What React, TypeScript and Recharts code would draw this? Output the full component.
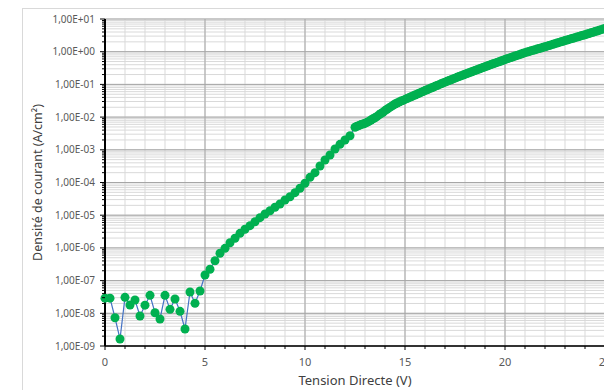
import React from "react";
import {
  LineChart,
  Line,
  XAxis,
  YAxis,
  CartesianGrid,
  ReferenceLine,
} from "recharts";

// Forward voltage (V)
const VOLTS_LOW = [
  0, 0.25, 0.5, 0.75, 1, 1.25, 1.5, 1.75, 2, 2.25, 2.5, 2.75, 3, 3.25, 3.5, 3.75,
  4, 4.25, 4.5, 4.75, 5, 5.25, 5.5, 5.75, 6, 6.25, 6.5, 6.75, 7, 7.25, 7.5, 7.75,
  8, 8.25, 8.5, 8.75, 9, 9.25, 9.5, 9.75, 10, 10.25, 10.5, 10.75, 11, 11.25, 11.5,
  11.75, 12, 12.25,
];
// Current density (A/cm²)
const DENSITY_LOW = [
  2.9e-8, 2.9e-8, 7.3e-9, 1.64e-9, 3.08e-8, 1.79e-8, 2.55e-8, 8.26e-9, 1.77e-8,
  3.55e-8, 1.04e-8, 6.7e-9, 3.55e-8, 1.32e-8, 2.74e-8, 1.15e-8, 3.31e-9, 4.48e-8,
  2.02e-8, 4.81e-8, 1.48e-7, 2.22e-7, 4.06e-7, 6.84e-7, 9.7e-7, 1.44e-6, 1.97e-6,
  2.79e-6, 3.71e-6, 4.78e-6, 6.32e-6, 8.39e-6, 1.09e-5, 1.37e-5, 1.75e-5, 2.2e-5,
  2.92e-5, 3.68e-5, 4.88e-5, 6.65e-5, 9.46e-5, 1.44e-4, 2.0e-4, 3.2e-4, 4.88e-4,
  6.93e-4, 1.06e-3, 1.47e-3, 2.0e-3, 2.7e-3,
];

const VOLTS_HIGH = [
  12.5, 12.6, 12.7, 12.8, 12.9, 13, 13.1, 13.2, 13.3, 13.4, 13.5, 13.6, 13.7, 13.8,
  13.9, 14, 14.1, 14.2, 14.3, 14.4, 14.5, 14.6, 14.7, 14.8, 14.9, 15, 15.1, 15.2,
  15.3, 15.4, 15.5, 15.6, 15.7, 15.8, 15.9, 16, 16.1, 16.2, 16.3, 16.4, 16.5, 16.6,
  16.7, 16.8, 16.9, 17, 17.1, 17.2, 17.3, 17.4, 17.5, 17.6, 17.7, 17.8, 17.9, 18,
  18.1, 18.2, 18.3, 18.4, 18.5, 18.6, 18.7, 18.8, 18.9, 19, 19.1, 19.2, 19.3, 19.4,
  19.5, 19.6, 19.7, 19.8, 19.9, 20, 20.1, 20.2, 20.3, 20.4, 20.5, 20.6, 20.7, 20.8,
  20.9, 21, 21.1, 21.2, 21.3, 21.4, 21.5, 21.6, 21.7, 21.8, 21.9, 22, 22.1, 22.2,
  22.3, 22.4, 22.5, 22.6, 22.7, 22.8, 22.9, 23, 23.1, 23.2, 23.3, 23.4, 23.5, 23.6,
  23.7, 23.8, 23.9, 24, 24.1, 24.2, 24.3, 24.4, 24.5, 24.6, 24.7, 24.8, 24.9, 25,
];
const DENSITY_HIGH = [
  4.9e-3, 5.25e-3, 5.5e-3, 5.89e-3, 6.17e-3, 6.46e-3, 6.92e-3, 7.41e-3, 8.13e-3,
  8.91e-3, 9.55e-3, 1.05e-2, 1.17e-2, 1.29e-2, 1.41e-2, 1.58e-2, 1.74e-2, 1.91e-2,
  2.09e-2, 2.29e-2, 2.51e-2, 2.69e-2, 2.88e-2, 3.09e-2, 3.24e-2, 3.47e-2, 3.69e-2,
  3.93e-2, 4.18e-2, 4.45e-2, 4.73e-2, 5.04e-2, 5.36e-2, 5.7e-2, 6.07e-2, 6.46e-2,
  6.86e-2, 7.28e-2, 7.73e-2, 8.2e-2, 8.71e-2, 9.25e-2, 9.82e-2, 0.104, 0.111, 0.117,
  0.124, 0.131, 0.139, 0.147, 0.155, 0.164, 0.173, 0.183, 0.193, 0.204, 0.215, 0.227,
  0.239, 0.252, 0.266, 0.281, 0.296, 0.312, 0.329, 0.347, 0.365, 0.384, 0.404, 0.425,
  0.447, 0.47, 0.494, 0.52, 0.547, 0.575, 0.604, 0.634, 0.665, 0.698, 0.733, 0.769,
  0.807, 0.847, 0.889, 0.933, 0.973, 1.01, 1.06, 1.1, 1.15, 1.2, 1.25, 1.3, 1.36,
  1.41, 1.48, 1.54, 1.61, 1.68, 1.76, 1.84, 1.92, 2.0, 2.09, 2.19, 2.28, 2.38, 2.48,
  2.58, 2.69, 2.81, 2.92, 3.05, 3.18, 3.31, 3.46, 3.61, 3.78, 3.94, 4.12, 4.31, 4.5,
  4.7, 4.91, 5.13,
];

// Axis ticks
const X_TICKS = [
  0, 1, 2, 3, 4, 5, 6, 7, 8, 9, 10, 11, 12, 13, 14, 15, 16, 17, 18, 19, 20, 21, 22,
  23, 24, 25,
];
const X_MAJOR_TICKS = [0, 5, 10, 15, 20, 25];
const DECADE_EXPONENTS = [-9, -8, -7, -6, -5, -4, -3, -2, -1, 0, 1];
const MINOR_MULTIPLIERS = [2, 3, 4, 5, 6, 7, 8, 9];

const data = [
  ...VOLTS_LOW.map((v, i) => ({ v, j: DENSITY_LOW[i] })),
  ...VOLTS_HIGH.map((v, i) => ({ v, j: DENSITY_HIGH[i] })),
];

const MAJOR_Y = DECADE_EXPONENTS.map((e) => Math.pow(10, e));
const Y_TICKS: number[] = [];
DECADE_EXPONENTS.forEach((e) => {
  Y_TICKS.push(Math.pow(10, e));
  if (e < 1) MINOR_MULTIPLIERS.forEach((m) => Y_TICKS.push(m * Math.pow(10, e)));
});

const isMajorY = (v: number) => {
  const l = Math.log10(v);
  return Math.abs(l - Math.round(l)) < 1e-6;
};
const fmtY = (v: number) => {
  const e = Math.round(Math.log10(v));
  return `1,00E${e >= 0 ? "+" : "-"}${String(Math.abs(e)).padStart(2, "0")}`;
};

const FONT = "'Noto Sans', 'Open Sans', sans-serif";

const YTick = (props: any) => {
  const { x, y, payload } = props;
  const major = isMajorY(payload.value);
  return (
    <g>
      <line x1={x} x2={x - (major ? 5 : 3)} y1={y} y2={y} stroke="#000" strokeWidth={1} />
      {major && (
        <text x={x - 10} y={y} dy={3.5} textAnchor="end" fontSize={10} fill="#595959" fontFamily={FONT}>
          {fmtY(payload.value)}
        </text>
      )}
    </g>
  );
};

const XTick = (props: any) => {
  const { x, y, payload } = props;
  const major = X_MAJOR_TICKS.includes(payload.value);
  return (
    <g>
      <line x1={x} x2={x} y1={y} y2={y + (major ? 4 : 3)} stroke="#000" strokeWidth={1} />
      {major && (
        <text x={x} y={y + 20} textAnchor="middle" fontSize={11} fill="#595959" fontFamily={FONT}>
          {payload.value}
        </text>
      )}
    </g>
  );
};

export default function App() {
  return (
    <div style={{ position: "relative", width: 604, height: 390, overflow: "hidden", background: "#fff" }}>
      <style>{"body{margin:0;overflow:hidden;background:#fff}"}</style>
      <div
        style={{
          position: "absolute",
          left: 22,
          top: 8,
          width: 700,
          height: 500,
          border: "1px solid #d9d9d9",
        }}
      />
      <div style={{ position: "absolute", left: 0, top: 0 }}>
        <LineChart
          width={620}
          height={390}
          data={data}
          margin={{ top: 19, right: 15, bottom: 4, left: 0 }}
        >
          <CartesianGrid stroke="#d9d9d9" strokeWidth={1} vertical={true} horizontal={true} />
          {MAJOR_Y.map((v) => (
            <ReferenceLine key={"my" + v} y={v} stroke="#a6a6a6" strokeWidth={1} />
          ))}
          {X_MAJOR_TICKS.map((v) => (
            <ReferenceLine key={"mx" + v} x={v} stroke="#a6a6a6" strokeWidth={1} />
          ))}
          <XAxis
            dataKey="v"
            type="number"
            domain={[0, 25]}
            ticks={X_TICKS}
            interval={0}
            tick={<XTick />}
            tickLine={false}
            tickSize={0}
            tickMargin={0}
            height={40}
            axisLine={{ stroke: "#000", strokeWidth: 1.5 }}
            allowDataOverflow
            label={{
              value: "Tension Directe (V)",
              position: "insideBottom",
              offset: 1,
              fontSize: 13,
              fill: "#404040",
              fontFamily: FONT,
            }}
          />
          <YAxis
            dataKey="j"
            scale="log"
            domain={[1e-9, 10]}
            ticks={Y_TICKS}
            interval={0}
            tick={<YTick />}
            tickLine={false}
            tickSize={0}
            tickMargin={0}
            width={105}
            axisLine={{ stroke: "#000", strokeWidth: 2 }}
            allowDataOverflow
            label={{
              value: "Densité de courant (A/cm²)",
              angle: -90,
              position: "insideLeft",
              offset: 38,
              fontSize: 12.5,
              fill: "#404040",
              fontFamily: FONT,
              style: { textAnchor: "middle" },
            }}
          />
          <Line
            type="linear"
            dataKey="j"
            stroke="#4472c4"
            strokeWidth={1.2}
            dot={{ r: 4.5, fill: "#00b050", stroke: "none", clipDot: false }}
            isAnimationActive={false}
          />
        </LineChart>
      </div>
    </div>
  );
}
